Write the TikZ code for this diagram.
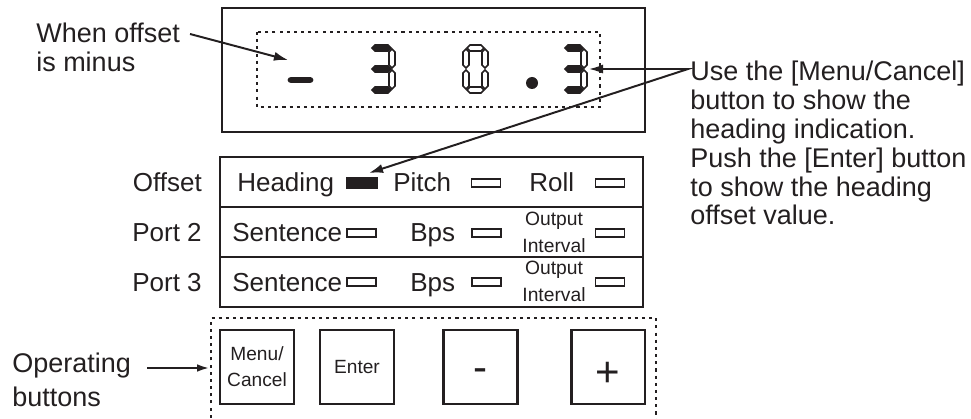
\documentclass[tikz,border=0pt]{standalone}
\usepackage{fontspec}
\setmainfont{Liberation Sans}
\usetikzlibrary{arrows.meta, calc, positioning}
\definecolor{cink}{HTML}{231F20}

% seven-segment pieces: horizontal (x1, x2, y) and vertical (x, y1, y2)
\newcommand{\hseg}[4][segO]{%
  \path[#1] ({#2+1},#4) -- ({#2+4},{#4-3}) -- ({#3-4},{#4-3}) -- ({#3-1},#4)
    -- ({#3-4},{#4+3}) -- ({#2+4},{#4+3}) -- cycle;}
\newcommand{\vseg}[4][segO]{%
  \path[#1] (#2,{#3+1}) -- ({#2+3},{#3+4}) -- ({#2+3},{#4-4}) -- (#2,{#4-1})
    -- ({#2-3},{#4-4}) -- ({#2-3},{#3+4}) -- cycle;}

\begin{document}
\begin{tikzpicture}[
  x=0.025cm, y=-0.025cm,
  every node/.style={inner sep=0pt, text=cink},
  framebox/.style={draw=cink, line width=2.1pt},
  rowline/.style={draw=cink, line width=1.8pt},
  dotbox/.style={draw=cink, line width=2pt, dash pattern=on 2.2pt off 2.9pt},
  lbl/.style={anchor=base west, font=\fontsize{18.5}{22}\selectfont},
  tag/.style={anchor=base east, font=\fontsize{18.5}{22}\selectfont},
  small/.style={anchor=base, align=center, font=\fontsize{13.7}{18.5}\selectfont},
  ind/.style={draw=cink, line width=1.3pt, minimum width=20.6pt, minimum height=5.7pt},
  indon/.style={fill=cink, minimum width=22.8pt, minimum height=8.5pt},
  btn/.style={draw=cink, line width=1.8pt, minimum size=52.3pt},
  btnfont/.style={font=\fontsize{13.6}{18.5}\selectfont, align=center},
  sign/.style={anchor=base, font=\fontsize{29.9}{30}\selectfont},
  note/.style={anchor=base west, align=left, font=\fontsize{19.2}{21.3}\selectfont},
  arr/.style={-{Latex[length=10pt, width=6.5pt]}, draw=cink, line width=1.4pt},
  segO/.style={draw=cink, line width=1.1pt, fill=white},
  segF/.style={draw=cink, line width=1.1pt, fill=cink}
]
\useasboundingbox (0,0) rectangle (971,419);

% ============================================================
% Display window with the offset read-out
\draw[framebox] (222,8) rectangle (645,132);
\draw[dotbox] (257,32) rectangle (600,107);

% minus sign
\draw[cink, line width=4.8pt, line cap=round] (291,80) -- (310,80);
% digit 3
\hseg[segF]{371}{392}{48}
\hseg[segF]{371}{392}{69}
\hseg[segF]{371}{392}{90}
\vseg{392}{48}{69}
\vseg{392}{69}{90}
% digit 0
\hseg{466}{485}{48}
\hseg{466}{485}{90}
\vseg{466}{48}{69}
\vseg{466}{69}{90}
\vseg{485}{48}{69}
\vseg{485}{69}{90}
% decimal point and last digit 3
\fill[cink] (532,83) circle (6);
\hseg[segF]{564}{584}{48}
\hseg[segF]{564}{584}{69}
\hseg[segF]{564}{584}{90}
\vseg{584}{48}{69}
\vseg{584}{69}{90}

% ============================================================
% Indicator panel: Offset / Port 2 / Port 3
\draw[framebox] (220,157) rectangle (643,307);
\draw[rowline] (220,207) -- (643,207);
\draw[rowline] (220,257) -- (643,257);

\node[tag] (toffset) at (202,192) {Offset};
\node[tag] (tport2)  at (202,241) {Port 2};
\node[tag] (tport3)  at (202,291) {Port 3};

\node[lbl] (lhead) at (237,192) {Heading};
\node[indon] (headind) at (362,183) {};
\node[lbl] (lpitch) at (393,192) {Pitch};
\node[ind] (pitchind) at (486,183) {};
\node[lbl] (lroll) at (529,192) {Roll};
\node[ind] (rollind) at (610,183) {};

% multi-line nodes sit on the baseline of their last line
\foreach \r/\b in {2/242,3/291} {
  \node[lbl] (lsent\r) at (232,\b) {Sentence};
  \node[ind] (sentind\r) at (361.5,{\b-9}) {};
  \node[lbl] (lbps\r) at (410,\b) {Bps};
  \node[ind] (bpsind\r) at (486.5,{\b-9}) {};
  \node[small] (lout\r) at (554,{\b+10}) {Output\\Interval};
  \node[ind] (outind\r) at (610,{\b-9}) {};
}

% ============================================================
% Operating buttons
\draw[dotbox] (211,425) -- (211,318) -- (656,318) -- (656,425);
\node[btn, btnfont] (bmenu) at (257,367) {Menu/\\Cancel};
\node[btn, btnfont] (benter) at (357,367) {Enter};
\node[btn] (bminus) at (480.5,367) {};
\node[sign] (lminus) at ($(bminus.center)+(0,14)$) {-};
\node[btn] (bplus) at (608,367) {};
\node[sign] (lplus) at ($(bplus.center)+(0,19)$) {+};

% ============================================================
% Call-outs
\node[note] (minusnote) at (36,72) {When offset\\is minus};
\coordinate (minusfrom) at (190,34);
\coordinate (minustip) at (288,60);
\draw[arr] (minusfrom) -- (minustip);

\node[note, font=\fontsize{19.2}{20.6}\selectfont] (callnote) at (690,225)
  {Use the [Menu/Cancel]\\button to show the\\heading indication.\\Push the [Enter] button\\to show the heading\\offset value.};
\coordinate (callpt) at (688,69);
\coordinate (digtip) at (589,69);
\coordinate (headtip) at (369,173);
\draw[arr, {Latex[length=10pt, width=6.5pt]}-{Latex[length=10pt, width=6.5pt]}]
  (digtip) -- (callpt) -- (headtip);

\node[note, font=\fontsize{19.2}{23.5}\selectfont] (btnnote) at (12,406) {Operating\\buttons};
\coordinate (btnfrom) at (147,368);
\coordinate (btntip) at (209,368);
\draw[arr, -{Latex[length=8.5pt, width=5.5pt]}] (btnfrom) -- (btntip);

\end{tikzpicture}
\end{document}
